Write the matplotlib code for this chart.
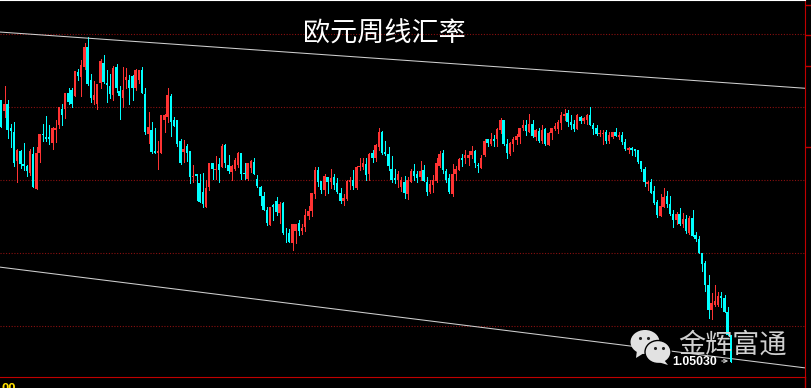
import numpy as np
import matplotlib
matplotlib.use("Agg")
import matplotlib.pyplot as plt
from matplotlib.patches import Ellipse, Polygon

plt.rcParams['font.family'] = ['Noto Sans CJK SC', 'DejaVu Sans']

# weekly EUR/USD bars, price x 1000
highs = [
    1409,1428,1409,1376,1379,1342,1341,1350,1320,1342,1344,1344,1363,1376,1387,1374,1372,1382,1400,1404,
    1418,1425,1425,1448,1452,1464,1487,1495,1444,1435,1431,1465,1470,1450,1444,1455,1458,1428,1454,1453,
    1443,1443,1452,1450,1454,1425,1392,1379,1370,1353,1389,1390,1425,1417,1385,1381,1356,1354,1348,1339,
    1320,1308,1308,1309,1299,1323,1323,1332,1329,1348,1348,1333,1320,1329,1338,1337,1322,1323,1327,1329,
    1306,1291,1283,1263,1263,1267,1276,1269,1269,1233,1232,1239,1239,1245,1239,1259,1264,1282,1317,1317,
    1298,1307,1303,1314,1308,1302,1288,1280,1299,1303,1313,1318,1330,1329,1330,1337,1340,1349,1371,1366,
    1353,1344,1332,1314,1312,1303,1305,1304,1314,1321,1311,1325,1320,1303,1300,1306,1330,1339,1341,1315,
    1308,1321,1318,1330,1335,1340,1339,1346,1340,1323,1333,1356,1356,1364,1361,1370,1384,1382,1355,1351,
    1358,1362,1370,1381,1381,1390,1382,1369,1370,1374,1371,1365,1371,1377,1382,1392,1396,1395,1388,1382,
    1390,1387,1385,1390,1400,1377,1374,1368,1368,1368,1365,1365,1370,1365,1365,1355,1345,1345,1342,1340,
    1325,1317,1298,1301,1291,1272,1280,1289,1284,1277,1258,1256,1261,1254,1251,1250,1258,1228,1223,1200,
    1188,1169,1144,1155,1146,1146,1142,1125,1087,
]
lows = [
    1372,1386,1357,1345,1318,1297,1316,1313,1305,1306,1290,1287,1324,1353,1353,1348,1342,1352,1370,1374,
    1384,1404,1400,1414,1436,1415,1452,1429,1406,1403,1397,1425,1432,1406,1411,1409,1420,1383,1400,1425,
    1404,1409,1422,1432,1418,1363,1350,1336,1336,1315,1337,1365,1379,1359,1373,1346,1321,1324,1326,1295,
    1297,1272,1269,1263,1263,1285,1301,1301,1297,1317,1317,1309,1299,1313,1317,1301,1301,1299,1310,1307,
    1290,1265,1258,1238,1238,1244,1251,1240,1225,1215,1214,1204,1213,1224,1225,1229,1246,1250,1275,1291,
    1282,1279,1282,1288,1287,1282,1268,1265,1272,1287,1287,1287,1313,1315,1299,1300,1324,1326,1340,1335,
    1333,1313,1296,1295,1290,1284,1275,1273,1297,1299,1296,1299,1298,1279,1282,1283,1296,1317,1309,1297,
    1281,1277,1299,1313,1318,1322,1320,1329,1317,1310,1316,1332,1346,1347,1346,1346,1364,1347,1330,1333,
    1339,1349,1350,1368,1361,1365,1358,1354,1352,1350,1347,1347,1355,1368,1364,1369,1382,1373,1369,1367,
    1369,1378,1378,1376,1374,1363,1361,1359,1349,1350,1350,1357,1359,1356,1349,1341,1337,1333,1332,1322,
    1312,1291,1285,1282,1267,1249,1250,1262,1262,1251,1235,1239,1238,1235,1227,1225,1222,1216,1200,1175,
    1147,1111,1109,1127,1127,1126,1118,1087,1050.3,
]
opens = [
    1409,1394,1404,1371,1365,1326,1339,1321,1318,1309,1335,1287,1337,1363,1358,1358,1350,1368,1374,1397,
    1396,1419,1422,1415,1447,1441,1454,1481,1436,1409,1404,1432,1460,1432,1428,1416,1454,1421,1411,1437,
    1437,1442,1425,1437,1450,1417,1363,1368,1339,1337,1337,1381,1385,1414,1381,1381,1353,1338,1346,1339,
    1304,1307,1295,1283,1263,1290,1322,1313,1321,1317,1347,1320,1310,1315,1320,1336,1309,1301,1316,1324,
    1301,1290,1277,1258,1238,1265,1271,1254,1268,1226,1227,1213,1229,1240,1229,1235,1250,1257,1280,1313,
    1298,1285,1303,1296,1303,1295,1282,1271,1273,1296,1299,1289,1317,1317,1321,1308,1336,1329,1344,1365,
    1338,1335,1314,1302,1299,1290,1297,1280,1297,1312,1308,1303,1313,1297,1283,1293,1298,1318,1336,1311,
    1302,1280,1307,1313,1329,1329,1330,1333,1339,1320,1316,1333,1355,1349,1356,1355,1368,1382,1349,1335,
    1349,1354,1358,1370,1374,1365,1376,1358,1367,1353,1369,1347,1364,1369,1369,1377,1387,1391,1379,1376,
    1369,1385,1380,1382,1388,1375,1370,1362,1362,1365,1353,1358,1365,1358,1361,1352,1341,1343,1342,1340,
    1325,1314,1294,1296,1284,1269,1250,1263,1277,1267,1253,1245,1253,1239,1246,1227,1247,1224,1218,1200,
    1186,1156,1121,1128,1128,1141,1138,1119,1087,
]
closes = [
    1372,1403,1368,1367,1322,1341,1321,1318,1312,1339,1290,1336,1362,1361,1355,1355,1370,1370,1400,1389,
    1418,1406,1404,1448,1442,1457,1482,1431,1411,1416,1431,1463,1434,1429,1417,1453,1425,1414,1423,1440,
    1425,1425,1450,1450,1419,1365,1372,1338,1337,1339,1388,1389,1416,1379,1373,1348,1322,1342,1336,1304,
    1305,1305,1269,1267,1288,1322,1315,1315,1313,1346,1322,1312,1318,1327,1336,1308,1307,1322,1326,1308,
    1291,1277,1258,1240,1263,1262,1256,1267,1227,1225,1215,1239,1239,1229,1233,1251,1257,1282,1313,1297,
    1286,1305,1296,1302,1293,1283,1271,1275,1298,1300,1291,1317,1318,1322,1306,1335,1330,1347,1365,1337,
    1335,1318,1300,1299,1308,1300,1282,1300,1312,1305,1302,1312,1298,1283,1294,1300,1322,1335,1313,1300,
    1283,1308,1314,1328,1327,1333,1333,1339,1322,1318,1330,1353,1350,1355,1353,1369,1381,1349,1336,1350,
    1356,1359,1370,1374,1367,1376,1359,1368,1353,1368,1349,1364,1370,1373,1379,1388,1390,1379,1374,1369,
    1389,1380,1384,1388,1375,1369,1362,1364,1364,1353,1361,1365,1359,1361,1352,1342,1343,1340,1339,1324,
    1314,1296,1297,1282,1268,1251,1264,1276,1266,1253,1245,1253,1239,1246,1229,1247,1223,1218,1200,1184,
    1156,1121,1131,1133,1141,1138,1119,1087,1050.3,
]

grid_levels = [1.10, 1.20, 1.30, 1.40, 1.50]
scale_marks = [1.539, 1.498, 1.4555, 1.3445]
upper_channel = [1.502, 1.425]
lower_channel = [1.180, 1.042]
last_price = "1.05030"
title = "欧元周线汇率"
watermark = "金辉富通"

UP = "#ff3333"
DOWN = "#00ffff"
DARK_RED = "#c00000"

highs, lows = np.array(highs) / 1000, np.array(lows) / 1000
opens, closes = np.array(opens) / 1000, np.array(closes) / 1000
idx = np.arange(len(highs))
colors = np.where(closes >= opens, UP, DOWN)

fig = plt.figure(figsize=(8.11, 3.88), dpi=100, facecolor="black")

# chart pane stops at the red frame: x=805, y=377
ax = fig.add_axes([0, 11 / 388, 805 / 811, 377 / 388], facecolor="black")
ax.set_xlim(-0.31, 251.25)
ax.set_ylim(1.0295, 1.5459)

ax.set_yticks(grid_levels)
ax.set_yticklabels([])
ax.grid(axis="y", color="#8a1010", linestyle=(0, (1, 1.5)), linewidth=0.8)
ax.set_axisbelow(True)
ax.yaxis.tick_right()
ax.tick_params(axis="y", which="major", length=0)
ax.set_yticks(scale_marks, minor=True)
ax.tick_params(axis="y", which="minor", length=4.5, width=1, color=DARK_RED, right=True, left=False)
ax.set_xticks([])

ax.spines["left"].set_visible(False)
ax.spines["right"].set_color(DARK_RED)
ax.spines["bottom"].set_color(DARK_RED)
ax.spines["top"].set_color("white")

# candles, wick sits on the right column of the body
ax.vlines(idx + 0.14, lows, highs, colors=colors, linewidth=0.72, antialiased=False, zorder=3)
ax.bar(idx, np.abs(closes - opens), bottom=np.minimum(opens, closes), width=0.58,
       color=colors, linewidth=0, antialiased=False, zorder=3)

ax.plot(ax.get_xlim(), upper_channel, color="#d0d0d0", linewidth=0.75, zorder=4)
ax.plot(ax.get_xlim(), lower_channel, color="#d0d0d0", linewidth=0.75, zorder=2)

# overlay in picture pixels for the pasted-on texts and the logo
top = fig.add_axes([0, 0, 1, 1], facecolor="none")
top.set_xlim(0, 811)
top.set_ylim(388, 0)
top.axis("off")

top.plot([805, 805], [377, 388], color=DARK_RED, linewidth=1)
top.text(384, 34, title, color="white", fontsize=19.5, ha="center", va="center")
top.text(1, 383, "00", color="#ffe000", fontsize=7.5, fontweight="bold", family="DejaVu Sans", va="top")

# wechat logo
top.add_patch(Ellipse((645, 342), 29, 24, facecolor="#e2e2e2", edgecolor="none", zorder=5))
top.add_patch(Polygon([[637, 350], [636, 358], [644, 353]], facecolor="#e2e2e2", zorder=5))
top.add_patch(Ellipse((658, 352), 26, 23, facecolor="#e2e2e2", edgecolor="black", linewidth=1, zorder=6))
top.add_patch(Polygon([[664, 360], [668, 365], [658, 362]], facecolor="#e2e2e2", zorder=6))
top.scatter([640, 648, 655, 663], [338, 338, 348, 348], s=5, color="#222222", linewidth=0, zorder=7)

top.text(732, 345, watermark, color="#d0d0d0", fontsize=19.5, ha="center", va="center", zorder=8)
top.text(672, 362, last_price, color="white", fontsize=8.8, fontweight="bold",
         family="Liberation Sans", ha="left", va="center", zorder=8)
top.annotate("", xy=(731, 361), xytext=(719, 361),
             arrowprops=dict(arrowstyle="->", color="#cccccc", linewidth=0.8, mutation_scale=6), zorder=8)

fig.savefig("out.png", dpi=100, facecolor="black")
